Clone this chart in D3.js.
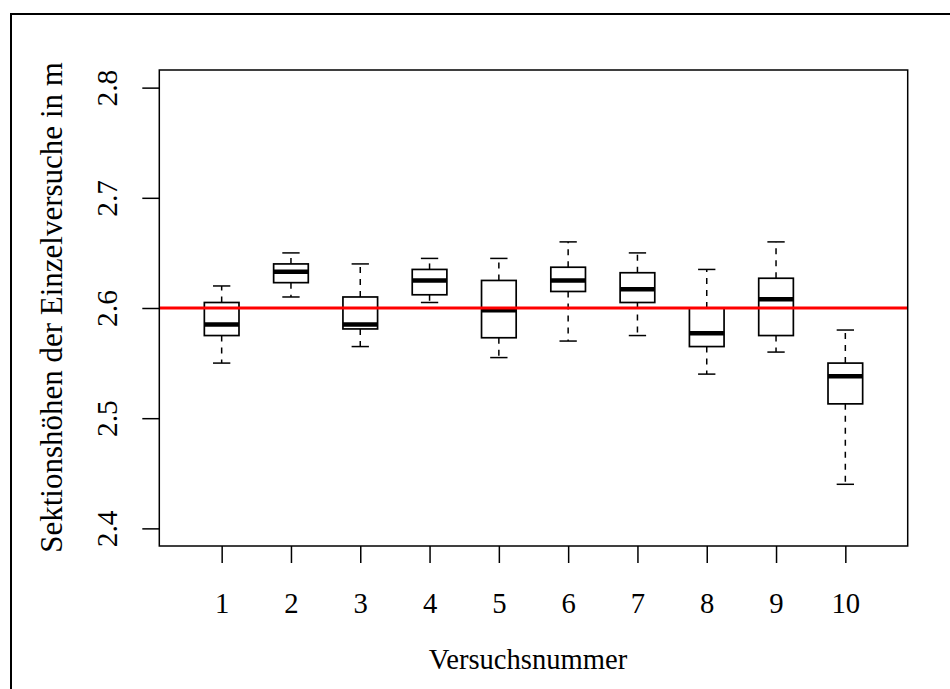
<!DOCTYPE html>
<html>
<head>
<meta charset="utf-8">
<script src="https://cdn.jsdelivr.net/npm/d3@7"></script>
<style>
  body { margin: 0; background: #fff; }
  svg text { font-family: "Liberation Serif", "Times New Roman", serif; fill: #000; }
</style>
</head>
<body>
<div id="chart-container"></div>
<script>
// Boxplot data per trial
const categories = [1, 2, 3, 4, 5, 6, 7, 8, 9, 10];
const whiskerLow  = [2.550, 2.610, 2.565, 2.605, 2.555, 2.570, 2.575, 2.540, 2.560, 2.440];
const quart1      = [2.575, 2.623, 2.581, 2.612, 2.573, 2.615, 2.605, 2.565, 2.575, 2.513];
const medians     = [2.585, 2.633, 2.585, 2.625, 2.598, 2.625, 2.617, 2.577, 2.608, 2.538];
const quart3      = [2.605, 2.640, 2.610, 2.635, 2.625, 2.637, 2.632, 2.600, 2.627, 2.550];
const whiskerHigh = [2.620, 2.650, 2.640, 2.645, 2.645, 2.660, 2.650, 2.635, 2.660, 2.580];
const yTicks = [2.4, 2.5, 2.6, 2.7, 2.8];
const refValue = 2.6;

const width = 950, height = 689;
const plot = { left: 159.3, right: 907.7, top: 70, bottom: 546 };
const serif = "'Liberation Serif', 'Times New Roman', serif";

const svg = d3.select("#chart-container")
              .append("svg")
              .attr("width", width)
              .attr("height", height);

// Outer frame (only top and left edges visible)
svg.append("path")
   .attr("d", "M11,689 L11,14 L950,14")
   .attr("fill", "none")
   .attr("stroke", "#000")
   .attr("stroke-width", 2);

// Scales: R style with 4% padding
const x = d3.scaleLinear()
            .domain([0.1, 10.9])
            .range([plot.left, plot.right]);

const y = d3.scaleLinear()
            .domain([2.384, 2.816])
            .range([plot.bottom, plot.top]);

const boxes = categories.map((c, i) => ({
    c, lo: whiskerLow[i], q1: quart1[i], med: medians[i], q3: quart3[i], hi: whiskerHigh[i]
}));

const g = svg.append("g");

// Whiskers (dashed)
g.selectAll(".whisker-lo")
 .data(boxes)
 .enter().append("line")
 .attr("x1", d => x(d.c)).attr("x2", d => x(d.c))
 .attr("y1", d => y(d.q1)).attr("y2", d => y(d.lo))
 .attr("stroke", "#000").attr("stroke-width", 1.5)
 .attr("stroke-dasharray", "6,6");

g.selectAll(".whisker-hi")
 .data(boxes)
 .enter().append("line")
 .attr("x1", d => x(d.c)).attr("x2", d => x(d.c))
 .attr("y1", d => y(d.q3)).attr("y2", d => y(d.hi))
 .attr("stroke", "#000").attr("stroke-width", 1.5)
 .attr("stroke-dasharray", "6,6");

// Caps
["lo", "hi"].forEach(k => {
    g.selectAll(".cap-" + k)
     .data(boxes)
     .enter().append("line")
     .attr("x1", d => x(d.c - 0.125)).attr("x2", d => x(d.c + 0.125))
     .attr("y1", d => y(d[k])).attr("y2", d => y(d[k]))
     .attr("stroke", "#000").attr("stroke-width", 1.5);
});

// Boxes
g.selectAll(".box")
 .data(boxes)
 .enter().append("rect")
 .attr("x", d => x(d.c - 0.25))
 .attr("width", d => x(d.c + 0.25) - x(d.c - 0.25))
 .attr("y", d => y(d.q3))
 .attr("height", d => y(d.q1) - y(d.q3))
 .attr("fill", "#fff")
 .attr("stroke", "#000")
 .attr("stroke-width", 1.7);

// Medians
g.selectAll(".median")
 .data(boxes)
 .enter().append("line")
 .attr("x1", d => x(d.c - 0.25)).attr("x2", d => x(d.c + 0.25))
 .attr("y1", d => y(d.med)).attr("y2", d => y(d.med))
 .attr("stroke", "#000").attr("stroke-width", 4.5);

// Reference line
svg.append("line")
   .attr("x1", plot.left).attr("x2", plot.right)
   .attr("y1", y(refValue)).attr("y2", y(refValue))
   .attr("stroke", "#ff0000")
   .attr("stroke-width", 3.2);

// Plot frame
svg.append("rect")
   .attr("x", plot.left).attr("y", plot.top)
   .attr("width", plot.right - plot.left)
   .attr("height", plot.bottom - plot.top)
   .attr("fill", "none")
   .attr("stroke", "#000")
   .attr("stroke-width", 1.5);

// Axes
const xAxis = svg.append("g")
   .attr("transform", "translate(0," + plot.bottom + ")")
   .call(d3.axisBottom(x).tickValues(categories).tickSize(17).tickSizeOuter(0).tickFormat(d3.format("d")));
xAxis.select(".domain").remove();
xAxis.selectAll("line").attr("stroke-width", 1.5);
xAxis.selectAll("text")
     .attr("y", 67).attr("dy", null)
     .style("font-size", "28.7px")
     .style("font-family", serif);

const yAxis = svg.append("g")
   .attr("transform", "translate(" + plot.left + ",0)")
   .call(d3.axisLeft(y).tickValues(yTicks).tickSize(17).tickSizeOuter(0).tickFormat(d3.format(".1f")));
yAxis.select(".domain").remove();
yAxis.selectAll("line").attr("stroke-width", 1.5);
yAxis.selectAll("text")
     .attr("x", null).attr("dy", null)
     .attr("transform", "translate(-42,0) rotate(-90)")
     .style("text-anchor", "middle")
     .style("font-size", "29.4px")
     .style("font-family", serif);

// Axis titles
svg.append("text")
   .attr("x", 528)
   .attr("y", 669)
   .style("text-anchor", "middle")
   .style("font-size", "28.6px")
   .text("Versuchsnummer");

svg.append("text")
   .attr("transform", "translate(62,307.5) rotate(-90)")
   .style("text-anchor", "middle")
   .style("font-size", "31px")
   .text("Sektionshöhen der Einzelversuche in m");
</script>
</body>
</html>
